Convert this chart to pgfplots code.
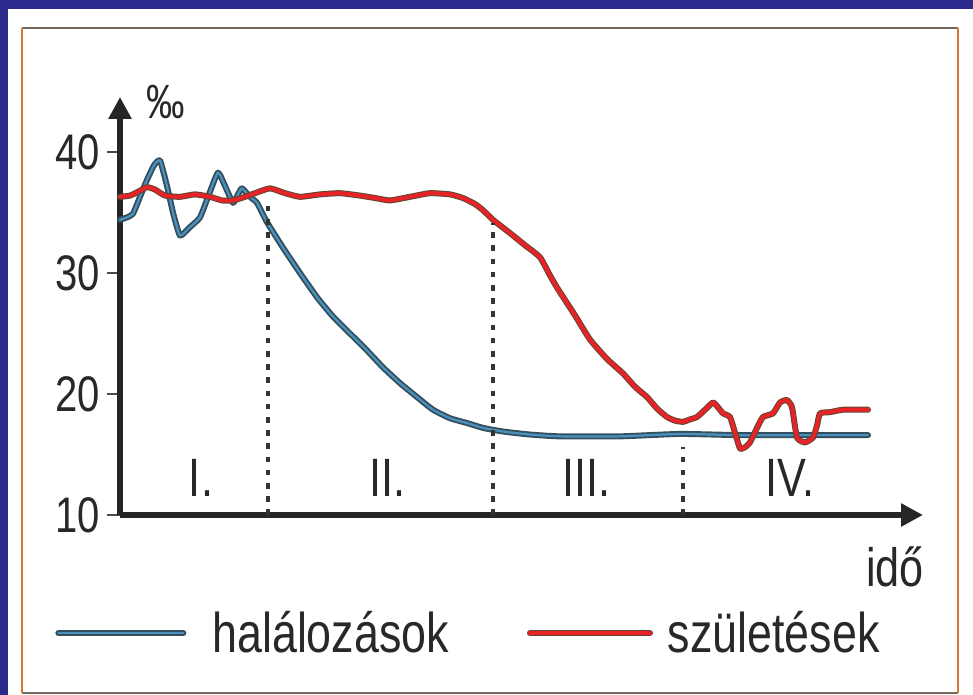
\documentclass[border=0pt]{standalone}
\usepackage{fontspec}
\setmainfont{Liberation Sans}[FakeStretch=0.8]
\usepackage{pgfplots}
\usepackage{pgfplotstable}
\pgfplotsset{compat=1.18}
\usetikzlibrary{arrows.meta}

\definecolor{bordblue}{RGB}{44,42,140}
\definecolor{frameorange}{RGB}{215,120,50}
\definecolor{framegray}{RGB}{120,105,95}
\definecolor{textgray}{RGB}{40,40,40}
\definecolor{deathdark}{RGB}{52,80,95}
\definecolor{deathblue}{RGB}{75,145,190}
\definecolor{birthdark}{RGB}{95,70,50}
\definecolor{birthred}{RGB}{232,35,40}

\pgfplotstableread{
x y
120 34.4
127 34.6
133 34.9
140 36.3
147 37.7
154 38.9
160 39.3
167 37.2
173 35.0
180 33.1
190 33.8
200 34.6
209 36.5
218 38.3
225 37.2
233 35.8
238 36.5
242 37.0
250 36.3
257 35.8
267 34.2
283 32.1
300 30.0
317 28.0
333 26.4
350 25.0
367 23.6
383 22.2
400 20.9
417 19.75
433 18.7
450 18.0
467 17.6
483 17.2
503 16.9
530 16.65
560 16.5
620 16.5
680 16.7
740 16.6
800 16.6
868 16.6
}\deaths

\pgfplotstableread{
x y
120 36.3
130 36.4
140 36.8
147 37.1
155 36.9
165 36.4
180 36.3
195 36.5
210 36.3
222 36.0
233 36.0
245 36.3
255 36.6
270 37.0
285 36.6
300 36.3
320 36.5
340 36.6
360 36.4
375 36.2
390 36.0
410 36.3
430 36.6
450 36.5
463 36.2
475 35.7
483 35.2
493 34.4
510 33.3
525 32.3
540 31.3
550 29.8
557 28.8
575 26.5
590 24.5
607 22.9
623 21.7
635 20.6
647 19.75
657 18.8
667 18.1
675 17.8
683 17.7
690 17.9
697 18.1
705 18.7
713 19.3
718 18.9
723 18.4
730 18.1
735 16.8
740 15.5
745 15.6
750 16.0
757 17.2
763 18.1
773 18.4
780 19.3
787 19.5
792 18.9
797 16.4
805 16.0
813 16.4
817 17.4
820 18.4
830 18.5
843 18.7
868 18.7
}\births

\tikzset{
  deathU/.style={line width=3pt, color=deathdark, line join=round, line cap=round},
  deathO/.style={line width=1.1pt, color=deathblue, line join=round, line cap=round},
  birthU/.style={line width=3pt, color=birthdark, line join=round, line cap=round},
  birthO/.style={line width=2pt, color=birthred, line join=round, line cap=round},
  phase/.style={line width=1.8pt, black!80, dash pattern=on 2.8pt off 3.8pt},
}

\begin{document}
\begin{tikzpicture}
\begin{scope}[x=0.5pt,y=0.5pt]
  \fill[bordblue] (0,0) rectangle (973,695);
  \fill[white] (8,0) rectangle (973,686);
  \draw[framegray, line width=1.2pt] (22,667) -- (958,667);
  \draw[framegray, line width=1.2pt] (22,2) -- (958,2);
  \draw[frameorange, line width=1.2pt] (22,2) -- (22,667);
  \draw[frameorange, line width=1.2pt] (958,2) -- (958,667);
\end{scope}

\begin{axis}[
  at={(60pt,90pt)}, anchor=south west,
  scale only axis, width=401.5pt, height=209pt,
  xmin=120, xmax=923, ymin=10, ymax=44.55,
  axis lines=left,
  axis line style={line width=2.8pt, draw=black!85, -{Triangle[length=11pt,width=11pt]}},
  xtick=\empty,
  ytick={10,20,30,40},
  tick align=outside, major tick length=6.5pt,
  every tick/.style={line width=1pt, black!70},
  /pgf/number format/assume math mode=true,
  yticklabel style={font=\fontsize{25}{25}\selectfont, text=textgray},
  clip=false,
  legend columns=2,
  legend style={at={(-0.081,-0.2823)}, anchor=west, draw=none, fill=none,
    inner sep=0pt, font=\fontsize{28}{28}\selectfont, text=textgray,
    /tikz/every even column/.append style={column sep=37pt}},
]
\addplot[deathU, smooth, tension=0.3, forget plot] table[x=x,y=y] {\deaths};
\addplot[deathO, smooth, tension=0.3,
  legend image code/.code={\draw[deathU] (0pt,0pt) -- (62.5pt,0pt); \draw[deathO] (0pt,0pt) -- (62.5pt,0pt); \path[draw=none, fill=none] (0pt,0pt) -- (75pt,0pt);}]
  table[x=x,y=y] {\deaths};
\addlegendentry{halálozások}
\addplot[birthU, smooth, tension=0.3, forget plot] table[x=x,y=y] {\births};
\addplot[birthO, smooth, tension=0.3,
  legend image code/.code={\draw[birthU] (0pt,0pt) -- (60pt,0pt); \draw[birthO] (0pt,0pt) -- (60pt,0pt); \path[draw=none, fill=none] (0pt,0pt) -- (67pt,0pt);}]
  table[x=x,y=y] {\births};
\addlegendentry{születések}

\draw[phase] (axis cs:268,10) -- (axis cs:268,35.5);
\draw[phase] (axis cs:493,10) -- (axis cs:493,34.1);
\draw[phase] (axis cs:683,10) -- (axis cs:683,15.6);

\node[text=textgray, font=\fontsize{27}{27}\selectfont] at (axis cs:201,13.06) {I.};
\node[text=textgray, font=\fontsize{27}{27}\selectfont] at (axis cs:387,13.06) {II.};
\node[text=textgray, font=\fontsize{27}{27}\selectfont] at (axis cs:586,13.06) {III.};
\node[text=textgray, font=\fontsize{27}{27}\selectfont] at (axis cs:790,13.06) {IV.};
\end{axis}

\begin{scope}[x=0.5pt,y=0.5pt]
  \node[text=textgray, font=\fontsize{24}{24}\selectfont] at (166,593) {‰};
  \node[text=textgray, font=\fontsize{27}{27}\selectfont] at (895,128) {idő};
\end{scope}

\pgfresetboundingbox
\path[use as bounding box] (0,0) rectangle (486.5pt,347.5pt);
\end{tikzpicture}
\end{document}
